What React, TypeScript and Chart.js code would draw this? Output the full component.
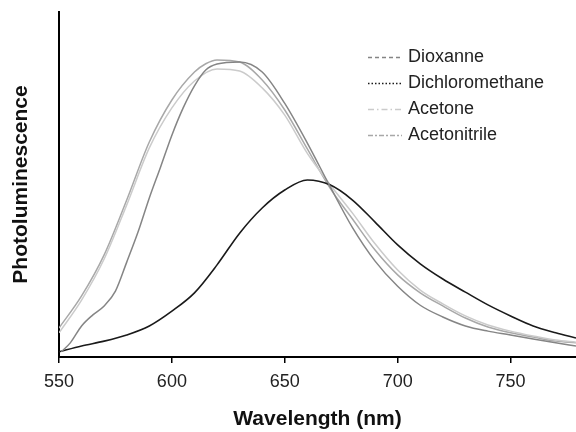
import React, { useEffect, useRef } from "react";
import { Chart, registerables } from "chart.js";

Chart.register(...registerables);

// Wavelength (nm) samples and photoluminescence (arb. units, 0-100) per solvent
const dioxanneX = [551, 555, 560, 565, 570, 575, 580, 585, 590, 595, 600, 605, 610, 615, 620, 630, 640, 650, 660, 670, 680, 690, 700, 710, 720, 730, 740, 750, 760, 770, 779];
const dioxanneY = [1.5, 4.1, 9.0, 12.2, 14.8, 19.1, 27.5, 36.2, 46.1, 55.1, 64.3, 72.2, 78.6, 83.2, 84.9, 85.5, 82.6, 73.5, 62.0, 49.5, 37.5, 27.8, 20.5, 15.0, 11.6, 9.0, 7.5, 6.4, 5.2, 4.1, 3.2];

const dcmX = [550, 560, 570, 580, 590, 600, 610, 620, 630, 640, 650, 660, 670, 680, 690, 700, 710, 720, 730, 740, 750, 760, 770, 779];
const dcmY = [1.5, 3.2, 4.6, 6.4, 9.0, 13.3, 18.6, 26.7, 35.9, 43.2, 48.4, 51.3, 49.9, 45.5, 39.1, 32.5, 27.0, 22.6, 18.8, 15.1, 11.9, 9.0, 7.0, 5.5];

const acetoneX = [550, 560, 570, 580, 590, 600, 610, 620, 630, 640, 650, 660, 670, 680, 690, 700, 710, 720, 730, 740, 750, 760, 770, 779];
const acetoneY = [7.0, 16.5, 28.4, 44.1, 60.6, 72.2, 80.0, 83.5, 82.9, 78.0, 70.1, 59.0, 50.0, 41.7, 32.8, 25.2, 19.4, 15.4, 11.9, 9.3, 7.5, 6.1, 4.9, 4.3];

const acetonitrileX = [550, 560, 570, 580, 590, 600, 610, 615, 620, 630, 640, 650, 660, 670, 680, 690, 700, 710, 720, 730, 740, 750, 760, 770, 779];
const acetonitrileY = [8.4, 17.7, 29.6, 45.5, 62.3, 74.5, 82.6, 85.0, 86.1, 85.5, 80.3, 71.6, 60.3, 49.0, 40.0, 31.0, 23.8, 18.6, 14.8, 11.3, 8.7, 7.0, 5.8, 4.6, 4.1];

const seriesLabels = ["Dioxanne", "Dichloromethane", "Acetone", "Acetonitrile"];
const xTickValues = [550, 600, 650, 700, 750];

const FONT = "'Liberation Sans', Arial, Helvetica, sans-serif";

function pts(xs: number[], ys: number[]) {
  return xs.map((x, i) => ({ x, y: ys[i] }));
}

const colors = ["#858585", "#1a1a1a", "#cbcbcb", "#a8a8a8"];
const dashes: number[][] = [[4, 3], [1.5, 2], [6, 3, 1.5, 3], [5, 2, 2, 2]];

const legendPlugin = {
  id: "insideLegend",
  afterDraw(chart: any) {
    const ctx = chart.ctx;
    ctx.save();
    const rowsY = [57, 83, 109, 135];
    chart.data.datasets.forEach((ds: any, i: number) => {
      const y = rowsY[i];
      ctx.beginPath();
      ctx.setLineDash(dashes[i]);
      ctx.strokeStyle = colors[i];
      ctx.lineWidth = 1.3;
      ctx.moveTo(368, y + 0.5);
      ctx.lineTo(402, y + 0.5);
      ctx.stroke();
      ctx.setLineDash([]);
      ctx.fillStyle = "#222";
      ctx.font = `18px ${FONT}`;
      ctx.textBaseline = "middle";
      ctx.textAlign = "left";
      ctx.fillText(ds.label, 408, y);
    });
    ctx.restore();
  },
};

export default function App() {
  const ref = useRef<HTMLCanvasElement>(null);
  useEffect(() => {
    if (!ref.current) return;
    const datasets = [
      pts(dioxanneX, dioxanneY),
      pts(dcmX, dcmY),
      pts(acetoneX, acetoneY),
      pts(acetonitrileX, acetonitrileY),
    ].map((data, i) => ({
      label: seriesLabels[i],
      data,
      borderColor: colors[i],
      borderWidth: i === 1 ? 1.6 : 1.5,
      pointRadius: 0,
      fill: false,
      cubicInterpolationMode: "monotone" as const,
    }));
    const chart = new Chart(ref.current, {
      type: "line",
      data: { datasets },
      plugins: [legendPlugin],
      options: {
        animation: false,
        responsive: false,
        layout: { padding: { top: 12, right: 0, left: 0, bottom: 0 } },
        plugins: { legend: { display: false }, tooltip: { enabled: false } },
        scales: {
          x: {
            type: "linear",
            min: 550,
            max: 779,
            afterFit: (s: any) => { s.height = 75; },
            afterBuildTicks: (s: any) => { s.ticks = xTickValues.map((v) => ({ value: v })); },
            ticks: { stepSize: 50, includeBounds: false, color: "#222", font: { family: FONT, size: 18 }, padding: 8, maxRotation: 0 },
            grid: { drawOnChartArea: false, drawTicks: true, tickLength: 6, color: "#000", lineWidth: 1.5 },
            border: { display: true, color: "#000", width: 2 },
            title: { display: true, text: "Wavelength (nm)", color: "#111", font: { family: FONT, size: 21, weight: "bold" }, padding: { top: 0, bottom: 0 } },
          },
          y: {
            min: 0,
            max: 100,
            afterFit: (s: any) => { s.width = 59; },
            ticks: { display: false },
            grid: { display: false },
            border: { display: true, color: "#000", width: 2 },
            title: { display: true, text: "Photoluminescence", color: "#111", font: { family: FONT, size: 21, weight: "bold" }, padding: { top: 9, bottom: 0 } },
          },
        },
      },
    });
    return () => chart.destroy();
  }, []);
  return (
    <div style={{ position: "fixed", left: 0, top: 0, width: 576, height: 432, background: "#fff" }}>
      <canvas ref={ref} width={576} height={432} />
    </div>
  );
}
